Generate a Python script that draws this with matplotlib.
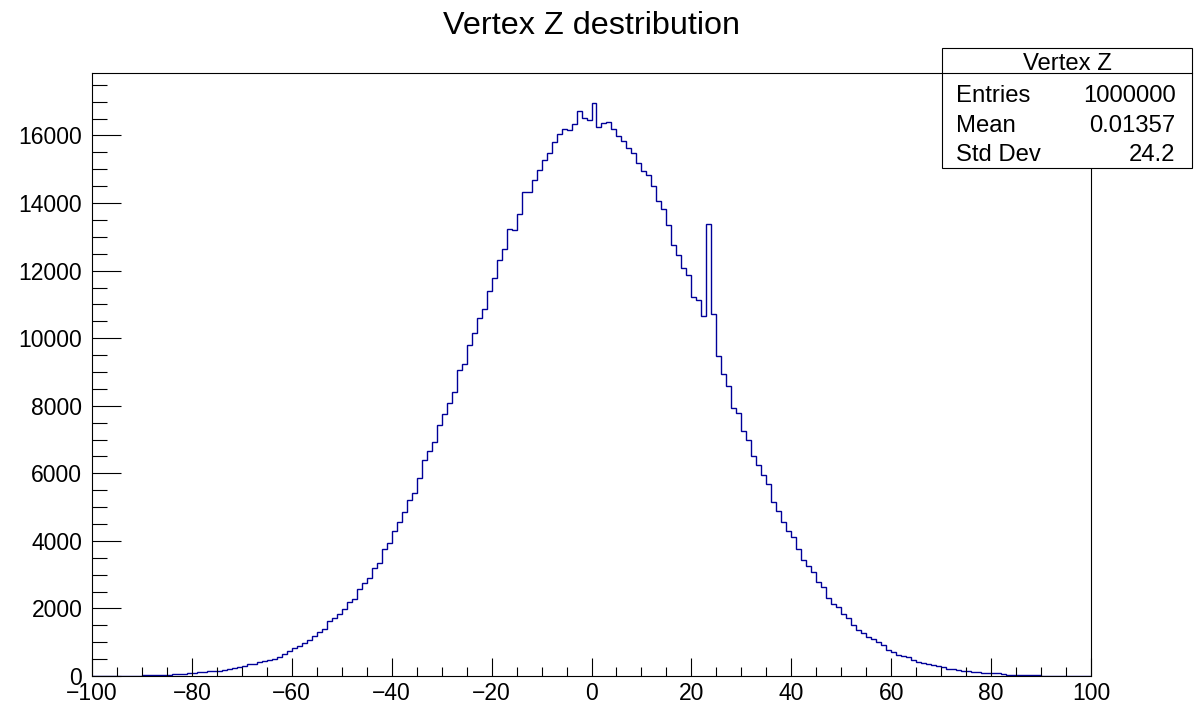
import numpy as np
import matplotlib.pyplot as plt
from matplotlib.patches import Rectangle
from matplotlib.lines import Line2D
from matplotlib.ticker import MultipleLocator

plt.rcParams['font.family'] = ['Liberation Sans', 'DejaVu Sans']

# bin edges: 200 bins of width 1 from -100 to 100
edges = np.arange(-100, 101, 1)

# counts, bins -100 .. 99
counts_left = [
    3, 3, 4, 5, 6, 7, 8, 10, 12, 14,                                  # -100 .. -91
    18, 22, 28, 32, 38, 42, 55, 62, 70, 78,                           # -90 .. -81
    95, 105, 120, 135, 145, 160, 170, 200, 240, 265,                  # -80 .. -71
    300, 350, 370, 400, 440, 470, 500, 560, 640, 740,                 # -70 .. -61
    830, 900, 990, 1070, 1170, 1300, 1390, 1630, 1710, 1830,          # -60 .. -51
    1990, 2190, 2270, 2590, 2760, 2910, 3190, 3350, 3770, 3950,       # -50 .. -41
    4290, 4560, 4840, 5200, 5430, 5870, 6400, 6650, 6940, 7420,       # -40 .. -31
    7750, 8090, 8400, 9070, 9240, 9800, 10140, 10600, 10860, 11400,   # -30 .. -21
    11790, 12300, 12650, 13220, 13190, 13680, 14330, 14330, 14680, 14990,  # -20 .. -11
    15270, 15490, 15810, 16030, 16200, 16160, 16350, 16720, 16520, 16470,  # -10 .. -1
]
counts_right = [
    16970, 16260, 16360, 16410, 16180, 15980, 15840, 15640, 15490, 15190,  # 0 .. 9
    14950, 14820, 14510, 14050, 13830, 13350, 12760, 12470, 12080, 11870,  # 10 .. 19
    11230, 11140, 10650, 13380, 10720, 9480, 8940, 8590, 7920, 7800,       # 20 .. 29
    7240, 6980, 6510, 6250, 5950, 5680, 5140, 4890, 4550, 4290,            # 30 .. 39
    4120, 3750, 3440, 3270, 3080, 2780, 2620, 2300, 2130, 2040,            # 40 .. 49
    1830, 1710, 1520, 1360, 1265, 1165, 1090, 1010, 910, 780,              # 50 .. 59
    710, 620, 590, 560, 465, 415, 380, 355, 315, 300,                      # 60 .. 69
    257, 215, 200, 175, 160, 135, 128, 120, 100, 95,                       # 70 .. 79
    80, 75, 50, 42, 38, 32, 26, 22, 18, 15,                                # 80 .. 89
    13, 11, 9, 8, 6, 5, 4, 4, 3, 3,                                        # 90 .. 99
]
counts = np.array(counts_left + counts_right)

stat_names = ["Entries", "Mean", "Std Dev"]
stat_values = ["1000000", "0.01357", "24.2"]

W, H = 1196, 708
fig = plt.figure(figsize=(W / 100, H / 100), dpi=100)
ax = fig.add_axes([92 / W, 1 - 676 / H, (1091 - 92) / W, (676 - 73) / H])

ax.stairs(counts, edges, color='#000099', lw=1.0)

ax.set_xlim(-100, 100)
ax.set_ylim(0, 17850)
ax.xaxis.set_major_locator(MultipleLocator(20))
ax.xaxis.set_minor_locator(MultipleLocator(5))
ax.yaxis.set_major_locator(MultipleLocator(2000))
ax.yaxis.set_minor_locator(MultipleLocator(500))
ax.tick_params(which='both', direction='in', top=False, right=False,
               labelsize=16.5, width=0.8)
ax.tick_params(axis='x', which='major', length=13, pad=4)
ax.tick_params(axis='x', which='minor', length=6.5)
ax.tick_params(axis='y', which='major', length=21, pad=7)
ax.tick_params(axis='y', which='minor', length=10.5)
for s in ax.spines.values():
    s.set_linewidth(0.8)

# title
fig.text(591.5 / W, 1 - 34 / H, "Vertex Z destribution", ha='center',
         va='baseline', fontsize=23.3)

# stats box (ROOT style)
bx0, bx1, by0, by1 = 942.5, 1192, 48.5, 167.5
fig.patches.append(Rectangle((bx0 / W, 1 - by1 / H), (bx1 - bx0) / W,
                             (by1 - by0) / H, transform=fig.transFigure,
                             facecolor='white', edgecolor='black', lw=0.8,
                             zorder=5))
fig.lines.append(Line2D([bx0 / W, bx1 / W], [1 - 73.3 / H, 1 - 73.3 / H],
                        transform=fig.transFigure, color='black', lw=0.8,
                        zorder=6))
fig.text((bx0 + bx1) / 2 / W, 1 - 70.5 / H, "Vertex Z", ha='center',
         va='baseline', fontsize=17.2, zorder=7)
for i, (name, val) in enumerate(zip(stat_names, stat_values)):
    yb = [101.5, 132.5, 161][i]
    fig.text(955.5 / W, 1 - yb / H, name, ha='left', va='baseline',
             fontsize=17.2, zorder=7)
    fig.text(1175.5 / W, 1 - yb / H, val, ha='right', va='baseline',
             fontsize=17.2, zorder=7)

fig.savefig("out.png", dpi=100)
